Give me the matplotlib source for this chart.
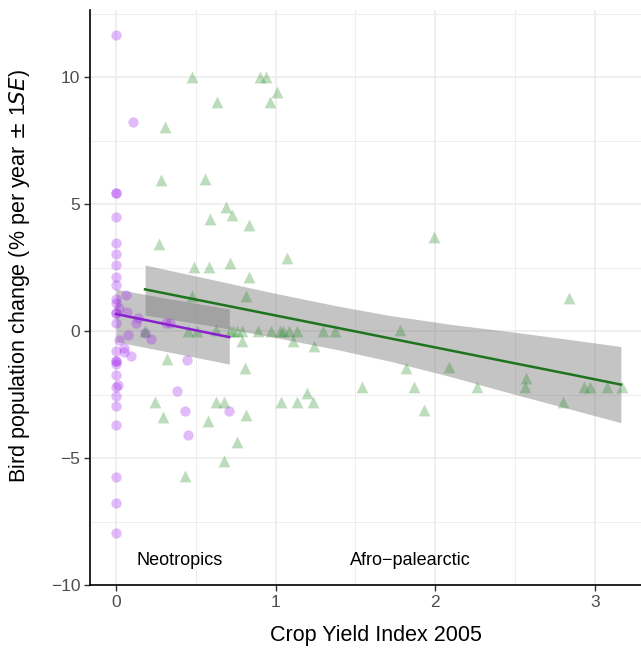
import numpy as np
import matplotlib
matplotlib.use("Agg")
import matplotlib.pyplot as plt
from matplotlib.ticker import MultipleLocator

# Neotropics (purple circles)
neo_x = [0, 0, 0, 0, 0, 0, 0, 0, 0, 0, 0, 0, 0, 0, 0, 0, 0, 0, 0, 0, 0, 0, 0, 0, 0, 0,
         0.02, 0.01, 0.02, 0.107, 0.063, 0.067, 0.14, 0.125, 0.313, 0.339, 0.073,
         0.18, 0.22, 0.05, 0.05, 0.096, 0.447, 0.384, 0.433, 0.449, 0.71]
neo_y = [11.65, 5.45, 5.42, 4.47, 3.48, 3.03, 2.59, 2.14, 1.8, 1.27, 0.72, 0.72, 0.3,
         -0.77, -1.17, -1.17, -1.3, -1.73, -2.22, -2.56, -2.95, -3.7, -5.74, -6.76, -7.97,
         1.1,
         0.9, -2.13, -0.35, 8.23, 1.42, 0.76, 0.5, 0.3, 0.33, 0.3, -0.14,
         -0.07, -0.33, -0.68, -0.81, -0.98, -1.14, -2.36, -3.15, -4.08, -3.15]

# Afro-palearctic (green triangles)
afr_x = [0.475, 0.90, 0.94, 1.01, 0.965, 0.633, 0.305, 0.282, 0.558, 0.69, 0.727, 0.59,
         0.834, 0.272, 1.072, 0.487, 0.583, 0.717, 0.836, 0.478, 0.817,
         0.18, 0.453, 0.506, 0.627, 0.715, 0.735, 0.76, 0.788, 0.89, 0.97, 1.028, 1.045,
         1.087, 1.133, 1.296, 1.373,
         0.788, 1.108, 1.24, 0.318, 0.81, 0.245, 0.627, 0.677, 1.033, 1.137, 1.237, 1.2,
         0.297, 0.579, 0.815, 0.759, 0.677, 0.43,
         1.99, 2.84, 1.78, 1.82, 2.086, 1.54, 1.87, 2.26, 1.93, 2.57, 2.56, 2.80, 2.93,
         2.97, 3.08, 3.17]
afr_y = [10.0, 10.0, 10.0, 9.4, 9.03, 9.03, 8.02, 5.94, 6.0, 4.9, 4.57, 4.4,
         4.17, 3.42, 2.89, 2.53, 2.53, 2.69, 2.14, 1.38, 1.38,
         0.0, 0.0, 0.0, 0.04, 0.0, 0.0, 0.0, 0.0, 0.0, 0.0, 0.0, 0.0,
         0.0, 0.0, 0.0, 0.0,
         -0.38, -0.38, -0.6, -1.1, -1.45, -2.78, -2.78, -2.78, -2.78, -2.78, -2.78, -2.45,
         -3.4, -3.53, -3.31, -4.36, -5.12, -5.7,
         3.69, 1.3, 0.04, -1.47, -1.43, -2.19, -2.19, -2.22, -3.11, -1.86, -2.22, -2.78,
         -2.22, -2.22, -2.22, -2.22]

# fitted trend lines and their confidence bands
neo_fit_x = [0.0, 0.35, 0.71]
neo_fit_y = [0.67, 0.22, -0.24]
neo_fit_lo = [-0.42, -0.85, -1.30]
neo_fit_hi = [1.65, 1.25, 0.87]

afr_fit_x = [0.182, 0.6, 0.986, 1.4, 1.718, 2.1, 2.49, 2.85, 3.164]
afr_fit_y = [1.64, 1.115, 0.63, 0.11, -0.29, -0.77, -1.26, -1.71, -2.11]
afr_fit_lo = [0.63, 0.20, -0.24, -0.75, -1.19, -1.80, -2.48, -3.08, -3.61]
afr_fit_hi = [2.60, 2.03, 1.50, 0.97, 0.61, 0.26, -0.04, -0.34, -0.61]

plt.rcParams['font.family'] = ['Liberation Sans', 'DejaVu Sans']

fig = plt.figure(figsize=(6.41, 6.48), dpi=100)
ax = fig.add_axes([90 / 641, 63 / 648, 551 / 641, 575 / 648])

ax.scatter(neo_x, neo_y, s=55, marker='o', color='#A020F0', alpha=0.3,
           linewidths=0, zorder=3)
ax.scatter(afr_x, afr_y, s=72, marker='^', color='#228B22', alpha=0.3,
           linewidths=0, zorder=3)

for fx, fy, lo, hi, col in [(neo_fit_x, neo_fit_y, neo_fit_lo, neo_fit_hi, '#8A1FD0'),
                            (afr_fit_x, afr_fit_y, afr_fit_lo, afr_fit_hi, '#1C741C')]:
    ax.fill_between(fx, lo, hi, color='#777777', alpha=0.43, linewidth=0, zorder=2)
    ax.plot(fx, fy, color=col, lw=1.8, zorder=4)

ax.text(0.40, -9.05, 'Neotropics', fontsize=13, ha='center', va='center')
ax.text(1.846, -9.05, 'Afro\u2212palearctic', fontsize=13, ha='center', va='center')

ax.set_xlim(-0.163, 3.29)
ax.set_ylim(-10, 12.64)
ax.xaxis.set_major_locator(MultipleLocator(1))
ax.xaxis.set_minor_locator(MultipleLocator(0.5))
ax.yaxis.set_major_locator(MultipleLocator(5))
ax.yaxis.set_minor_locator(MultipleLocator(2.5))
ax.grid(which='major', color='#EBEBEB', lw=1.1, zorder=0)
ax.grid(which='minor', color='#EBEBEB', lw=0.6, zorder=0)
ax.set_axisbelow(True)
ax.tick_params(which='minor', length=0)
ax.tick_params(which='major', length=4, width=1, color='#333333',
               labelsize=12.5, labelcolor='#4D4D4D', pad=3)
for side in ['top', 'right']:
    ax.spines[side].set_visible(False)
for side in ['left', 'bottom']:
    ax.spines[side].set_linewidth(1.2)
    ax.spines[side].set_color('black')

ax.set_xlabel('Crop Yield Index 2005', fontsize=15.5, va='center')
ax.set_ylabel(r'Bird population change (% per year $\pm$ 1$\mathit{SE}$)',
              fontsize=15.5, va='center')
ax.xaxis.set_label_coords((376 - 90) / 551, (648 - 636 - 63) / 575)
ax.yaxis.set_label_coords((20 - 90) / 551, (648 - 276 - 63) / 575)

plt.savefig('out.png', dpi=100)
